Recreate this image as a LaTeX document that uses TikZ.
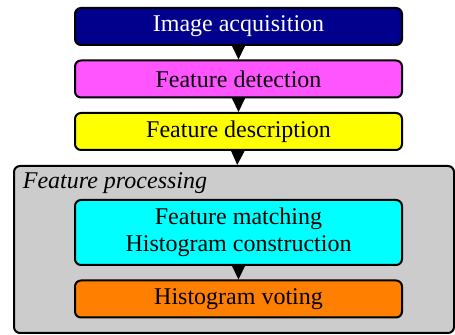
\documentclass[tikz,border=0pt]{standalone}
\usepackage{fontspec}
\setmainfont{Liberation Serif}
\usetikzlibrary{arrows.meta}
\usetikzlibrary{positioning}
\definecolor{acqblue}{RGB}{0,0,140}
\definecolor{detpink}{RGB}{255,85,255}
\definecolor{descyellow}{RGB}{255,255,0}
\definecolor{matchcyan}{RGB}{0,255,255}
\definecolor{voteorange}{RGB}{255,128,0}
\definecolor{procgray}{RGB}{204,204,204}

\begin{document}
\begin{tikzpicture}[x = 0.5pt, y = 0.5pt,
stage/.style={draw, line width = 1pt, rounded corners = 3pt, minimum width = 163.5pt,
  minimum height = 18.5pt, inner sep = 0pt, align = center,
  font = \fontsize{12}{13.5}\selectfont},
flow/.style={line width = 1pt, -{Triangle[length = 7pt, width = 6.5pt]}}]
\useasboundingbox (0,0) rectangle (455,-335);
% enclosing block for the processing steps
\node[draw, line width = 1pt, rounded corners = 3pt, fill = procgray, minimum width = 220pt,
  minimum height = 83.5pt, inner sep = 0pt] (proc) at (234,-249.5) {};
\node[anchor = west, inner sep = 0pt, font = \fontsize{12}{13.5}\selectfont\itshape]
  (proclabel) at (22.5,-183) {Feature processing};
\node[stage, fill = acqblue, text = white] (acq) at (238.5,-26.5) {Image acquisition};
\node[stage, fill = detpink] (det) at (238.5,-79) {Feature detection};
\node[stage, fill = descyellow] (desc) at (238.5,-131.5) {Feature description};
\node[stage, fill = matchcyan, minimum height = 32.5pt] (match) at (238.5,-232.5)
  {Feature matching\\Histogram construction};
\node[stage, fill = voteorange] (vote) at (238.5,-299) {Histogram voting};
\draw[flow] (acq) to (det);
\draw[flow] (det) to (desc);
\draw[flow] (desc) to (proc);
\draw[flow] (match) to (vote);
\end{tikzpicture}
\end{document}
